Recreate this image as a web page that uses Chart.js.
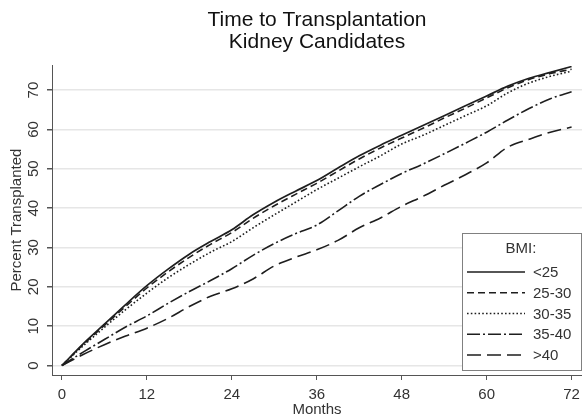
<!DOCTYPE html>
<html>
<head>
<meta charset="utf-8">
<script src="https://cdn.jsdelivr.net/npm/chart.js@4.4.1/dist/chart.umd.min.js"></script>
<style>
  html, body { margin: 0; padding: 0; background: #fff; }
  #wrap { width: 586px; height: 417px; }
</style>
</head>
<body>
<div id="wrap"><canvas id="chart" width="586" height="417"></canvas></div>
<script>
// months since listing
var months = [0, 3, 6, 9, 12, 15, 18, 21, 24, 27, 30, 33, 36, 39, 42, 45, 48, 51, 54, 57, 60, 63, 66, 69, 72];

// percent transplanted by BMI group
var bmiUnder25 = [0, 5.5, 10.5, 15.5, 20.3, 24.5, 28.3, 31.5, 34.5, 38.3, 41.5, 44.3, 47.0, 50.2, 53.3, 56.0, 58.5, 61.0, 63.5, 66.0, 68.5, 71.0, 73.0, 74.5, 76.0];
var bmi25to30 = [0, 5.3, 10.2, 15.0, 19.7, 23.8, 27.5, 30.8, 33.8, 37.4, 40.6, 43.5, 46.3, 49.4, 52.5, 55.3, 57.8, 60.3, 62.9, 65.4, 68.0, 70.6, 72.7, 74.2, 75.3];
var bmi30to35 = [0, 5.0, 9.7, 14.2, 18.4, 22.3, 25.7, 28.8, 31.5, 35.0, 38.3, 41.5, 44.7, 47.6, 50.5, 53.3, 56.3, 58.5, 61.0, 63.5, 66.0, 69.3, 71.8, 73.5, 74.8];
var bmi35to40 = [0, 3.4, 6.6, 9.8, 12.6, 15.8, 18.8, 21.6, 24.6, 28.0, 31.0, 33.5, 35.7, 39.3, 43.0, 46.0, 48.8, 51.2, 53.8, 56.5, 59.3, 62.4, 65.3, 67.8, 69.6];
var bmiOver40 = [0, 2.8, 5.3, 7.5, 9.5, 12.0, 15.0, 17.6, 19.5, 22.0, 25.3, 27.5, 29.4, 31.8, 35.0, 37.5, 40.5, 43.0, 45.8, 48.5, 51.5, 55.5, 57.5, 59.3, 60.6];

var seriesLabels = ['<25', '25-30', '30-35', '35-40', '>40'];
var xTicks = [0, 12, 24, 36, 48, 60, 72];
var yTicks = [0, 10, 20, 30, 40, 50, 60, 70];

var FONT = 'Liberation Sans, Arial, Helvetica, sans-serif';
var LINE = '#1e1e1e';
var dashes = [[], [7, 4], [1.6, 2.2], [13, 3, 2, 3], [14, 6]];
var widths = [1.7, 1.6, 1.6, 1.6, 1.6];

function toPoints(arr) {
    return months.map(function (m, i) { return { x: m, y: arr[i] }; });
}

var allSeries = [bmiUnder25, bmi25to30, bmi30to35, bmi35to40, bmiOver40];
var datasets = allSeries.map(function (arr, i) {
    return {
        label: seriesLabels[i],
        data: toPoints(arr),
        borderColor: LINE,
        borderWidth: widths[i],
        borderDash: dashes[i],
        pointRadius: 0,
        fill: false,
        cubicInterpolationMode: 'monotone'
    };
});

// boxed legend in the lower right of the plot, like the original
var bmiLegend = {
    id: 'bmiLegend',
    afterDatasetsDraw: function (chart) {
        var ctx = chart.ctx;
        var left = 462, top = 233, w = 119, h = 137;
        ctx.save();
        ctx.fillStyle = '#fff';
        ctx.fillRect(left, top, w, h);
        ctx.strokeStyle = '#808080';
        ctx.lineWidth = 1;
        ctx.strokeRect(left + 0.5, top + 0.5, w, h);
        ctx.fillStyle = '#333';
        ctx.font = '15px ' + FONT;
        ctx.textBaseline = 'middle';
        ctx.textAlign = 'center';
        ctx.fillText('BMI:', left + 59, top + 16);
        ctx.textAlign = 'left';
        chart.data.datasets.forEach(function (ds, i) {
            var y = top + 39 + i * 20.75;
            ctx.beginPath();
            ctx.strokeStyle = ds.borderColor;
            ctx.lineWidth = ds.borderWidth;
            ctx.setLineDash(ds.borderDash);
            ctx.moveTo(left + 5, y);
            ctx.lineTo(left + 63, y);
            ctx.stroke();
            ctx.setLineDash([]);
            ctx.fillText(ds.label, left + 71, y + 1);
        });
        ctx.restore();
    }
};

new Chart(document.getElementById('chart'), {
    type: 'line',
    data: { datasets: datasets },
    plugins: [bmiLegend],
    options: {
        responsive: false,
        devicePixelRatio: 1,
        animation: false,
        layout: { padding: 0 },
        plugins: {
            legend: { display: false },
            tooltip: { enabled: false },
            title: {
                display: true,
                fullSize: false,
                text: ['Time to Transplantation', 'Kidney Candidates'],
                color: '#111',
                font: { family: FONT, size: 21, weight: 'normal', lineHeight: 1.05 },
                padding: { top: 9, bottom: 12 }
            }
        },
        scales: {
            x: {
                type: 'linear',
                min: -1.4,
                max: 73.47,
                afterBuildTicks: function (scale) {
                    scale.ticks = xTicks.map(function (v) { return { value: v }; });
                },
                afterFit: function (scale) { scale.height = 42; },
                grid: { drawOnChartArea: false, drawTicks: true, tickLength: 5, tickColor: '#555' },
                border: { color: '#555', width: 1 },
                ticks: { color: '#333', font: { family: FONT, size: 15 }, padding: 6, maxRotation: 0 },
                title: {
                    display: true, text: 'Months', color: '#333',
                    font: { family: FONT, size: 15, lineHeight: 1 },
                    padding: { top: 0, bottom: 0 }
                }
            },
            y: {
                type: 'linear',
                min: -2.41,
                max: 76.35,
                afterBuildTicks: function (scale) {
                    scale.ticks = yTicks.map(function (v) { return { value: v }; });
                },
                afterFit: function (scale) { scale.width = 52; },
                grid: { color: '#e6e6e6', lineWidth: 1.5, drawTicks: true, tickLength: 5, tickColor: '#555' },
                border: { color: '#555', width: 1 },
                ticks: {
                    color: '#333', font: { family: FONT, size: 15 },
                    minRotation: 90, maxRotation: 90, crossAlign: 'center', padding: 5
                },
                title: {
                    display: true, text: 'Percent Transplanted', color: '#333',
                    font: { family: FONT, size: 15, lineHeight: 1.2 },
                    padding: { top: 8, bottom: 0 }
                }
            }
        }
    }
});
</script>
</body>
</html>
